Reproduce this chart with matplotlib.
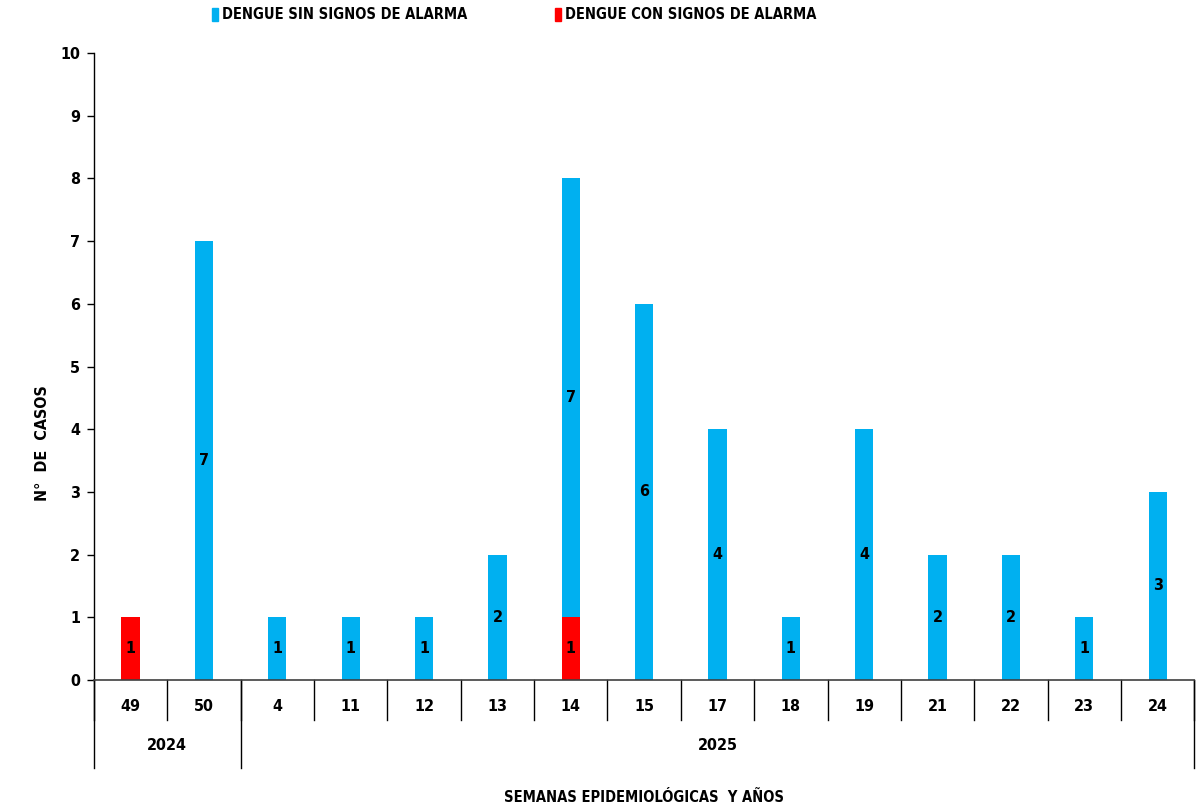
import numpy as np
import matplotlib.pyplot as plt
from matplotlib.lines import Line2D
from matplotlib.patches import Patch

plt.rcParams['font.family'] = ['DejaVu Sans']
plt.rcParams['font.stretch'] = 'condensed'
plt.rcParams['font.weight'] = 'bold'

weeks = ['49', '50', '4', '11', '12', '13', '14', '15', '17', '18', '19', '21', '22', '23', '24']
years = ['2024', '2025']
year_counts = [2, 13]
sin_signos = [0, 7, 1, 1, 1, 2, 7, 6, 4, 1, 4, 2, 2, 1, 3]
con_signos = [1, 0, 0, 0, 0, 0, 1, 0, 0, 0, 0, 0, 0, 0, 0]

blue = '#00B0F0'
red = '#FF0000'

fig = plt.figure(figsize=(12.04, 8.10), dpi=100)
ax = fig.add_axes([0.078, 0.1605, 0.914, 0.774])

x = np.arange(len(weeks))
ax.bar(x, con_signos, width=0.25, color=red)
ax.bar(x, sin_signos, width=0.25, bottom=con_signos, color=blue)

for i in range(len(weeks)):
    if con_signos[i] > 0:
        ax.text(x[i], con_signos[i] / 2, str(con_signos[i]), ha='center', va='center',
                fontsize=11.5, fontweight='bold')
    if sin_signos[i] > 0:
        ax.text(x[i], con_signos[i] + sin_signos[i] / 2, str(sin_signos[i]), ha='center',
                va='center', fontsize=11.5, fontweight='bold')

ax.set_xlim(-0.5, len(weeks) - 0.5)
ax.set_ylim(0, 10)
ax.set_yticks(range(0, 11))
ax.tick_params(axis='y', direction='out', length=5, width=1, labelsize=11.5, pad=5)
ax.set_xticks([])
for s in ['top', 'right']:
    ax.spines[s].set_visible(False)
ax.spines['left'].set_linewidth(1)
ax.spines['bottom'].set_linewidth(1.2)
ax.spines['bottom'].set_color('#404040')

trans = ax.get_xaxis_transform()
# week labels and dividers
for i, w in enumerate(weeks):
    ax.text(x[i], -0.043, w, transform=trans, ha='center', va='center', fontsize=11.5)
for b in np.arange(len(weeks) + 1) - 0.5:
    ax.add_line(Line2D([b, b], [0, -0.064], transform=trans, color='black', lw=1, clip_on=False))

# year labels and dividers
start = -0.5
edges = [start]
for yr, n in zip(years, year_counts):
    ax.text(start + n / 2, -0.104, yr, transform=trans, ha='center', va='center', fontsize=11.5)
    start += n
    edges.append(start)
for b in edges:
    ax.add_line(Line2D([b, b], [0, -0.14], transform=trans, color='black', lw=1, clip_on=False))

ax.text(0.5, -0.187, 'SEMANAS EPIDEMIOLÓGICAS  Y AÑOS', transform=ax.transAxes,
        ha='center', va='center', fontsize=10.5)
ax.set_ylabel('N°  DE  CASOS', fontsize=11.5, fontweight='bold')
ax.yaxis.set_label_coords(-0.04, 0.378)

handles = [Patch(color=blue), Patch(color=red)]
fig.legend(handles, ['DENGUE SIN SIGNOS DE ALARMA', 'DENGUE CON SIGNOS DE ALARMA'],
           loc='center', bbox_to_anchor=(0.427, 0.982), ncol=2, frameon=False,
           fontsize=10.5, handlelength=0.45, handleheight=1.0, handletextpad=0.25,
           columnspacing=6.0)

fig.savefig('out.png', dpi=100)
